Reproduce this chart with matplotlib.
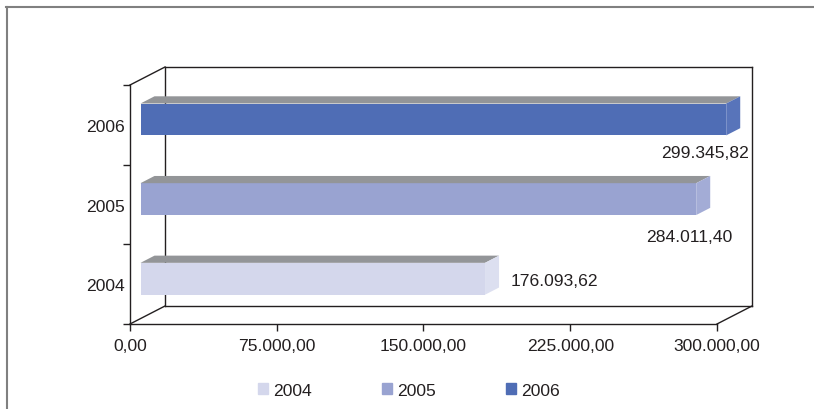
import matplotlib
matplotlib.use("Agg")
import matplotlib.pyplot as plt
from matplotlib.patches import Polygon, Patch
from matplotlib.lines import Line2D
from matplotlib.ticker import FuncFormatter, FixedLocator

plt.rcParams['font.family'] = ['Liberation Sans', 'DejaVu Sans']

# data
years = ["2004", "2005", "2006"]
values = [176093.62, 284011.40, 299345.82]
value_labels = ["176.093,62", "284.011,40", "299.345,82"]
x_ticks = [0, 75000, 150000, 225000, 300000]

front_colors = ["#D4D7EC", "#99A3D1", "#4F6DB5"]
side_colors = ["#DCDFF0", "#A3ACD6", "#5874BA"]
top_color = "#939598"
text_color = "#231F20"
FS = 12.6

fig = plt.figure(figsize=(8.14, 4.10), dpi=100)
# front plane of the pseudo 3D box
ax = fig.add_axes([130/814, 85/410, 587/814, 239/410])
ax.set_xlim(0, 300000)
ax.set_ylim(-0.5, 2.5)

# depth of the box in data units (35 px right, 18 px up)
DX = 300000 * 35 / 587
DY = 3 * 18 / 239
BH = 0.4  # bar height
f0, f1 = 0.3, 0.7  # bar front/back depth fractions

pos = list(range(len(years)))
for i, v in enumerate(values):
    y = pos[i]
    # front face
    ax.barh(y + f0*DY, v, left=f0*DX, height=BH, color=front_colors[i],
            clip_on=False, zorder=3)
    # top face
    top = [(f0*DX, y + BH/2 + f0*DY), (v + f0*DX, y + BH/2 + f0*DY),
           (v + f1*DX, y + BH/2 + f1*DY), (f1*DX, y + BH/2 + f1*DY)]
    ax.add_patch(Polygon(top, closed=True, color=top_color, clip_on=False,
                         zorder=3, lw=0))
    # side face
    side = [(v + f0*DX, y - BH/2 + f0*DY), (v + f1*DX, y - BH/2 + f1*DY),
            (v + f1*DX, y + BH/2 + f1*DY), (v + f0*DX, y + BH/2 + f0*DY)]
    ax.add_patch(Polygon(side, closed=True, color=side_colors[i], clip_on=False,
                         zorder=3, lw=0))

# box lines
lc = "#231F20"
lw = 1.0
box_lines = [
    ([0, DX], [2.5, 2.5 + DY]),
    ([0, DX], [-0.5, -0.5 + DY]),
    ([300000, 300000 + DX], [-0.5, -0.5 + DY]),
    ([DX, DX], [-0.5 + DY, 2.5 + DY]),
    ([DX, 300000 + DX], [-0.5 + DY, -0.5 + DY]),
    ([DX, 300000 + DX], [2.5 + DY, 2.5 + DY]),
    ([300000 + DX, 300000 + DX], [-0.5 + DY, 2.5 + DY]),
]
for xs, ys in box_lines:
    ax.plot(xs, ys, color=lc, lw=lw, clip_on=False, zorder=1)

for s in ["top", "right"]:
    ax.spines[s].set_visible(False)
for s in ["left", "bottom"]:
    ax.spines[s].set_color(lc)
    ax.spines[s].set_linewidth(lw)

def fmt(v, p):
    s = f"{v:,.2f}"
    return s.replace(",", "X").replace(".", ",").replace("X", ".")

ax.xaxis.set_major_locator(FixedLocator(x_ticks))
ax.xaxis.set_major_formatter(FuncFormatter(fmt))
ax.tick_params(axis="x", length=5, width=lw, color=lc, pad=5,
               labelsize=FS, labelcolor=text_color)
ax.set_yticks(pos)
ax.set_yticklabels(years)
ax.set_yticks([-0.5, 0.5, 1.5, 2.5], minor=True)
ax.tick_params(axis="y", which="major", length=0, pad=4,
               labelsize=FS, labelcolor=text_color)
ax.tick_params(axis="y", which="minor", length=5, width=lw, color=lc)

# data labels
label_offsets = [(57.5, 4.0), (2.7, -22.2), (-7.7, -19.0)]
for i, v in enumerate(values):
    ax.annotate(value_labels[i], xy=(v, pos[i]), xytext=label_offsets[i],
                textcoords="offset points", ha="center", va="center_baseline",
                fontsize=FS, color=text_color, annotation_clip=False, zorder=4)

handles = [Patch(color=c, label=y) for c, y in zip(front_colors, years)]
fig.legend(handles=handles, loc="center", bbox_to_anchor=(0.502, 0.046),
           ncol=3, frameon=False, fontsize=FS, handlelength=0.57,
           handleheight=0.57, handletextpad=0.3, columnspacing=4.0,
           labelcolor=text_color)

# outer frame
fig.add_artist(Line2D([6/814, 1], [1 - 8/410, 1 - 8/410], color="#808080", lw=1.5))
fig.add_artist(Line2D([7/814, 7/814], [0, 1 - 8/410], color="#808080", lw=1.5))

fig.savefig("out.png", dpi=100)
